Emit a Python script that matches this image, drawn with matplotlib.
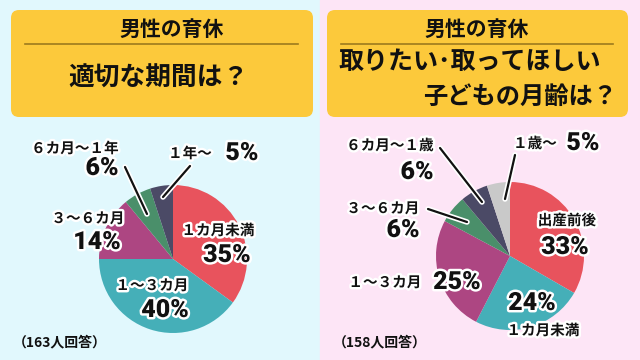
import matplotlib
matplotlib.use("Agg")
import matplotlib.pyplot as plt
from matplotlib.patches import Rectangle, FancyBboxPatch
import matplotlib.patheffects as pe

plt.rcParams['font.family'] = ['Noto Sans CJK JP', 'DejaVu Sans']

# ---- data ----
left_categories = ["１カ月未満", "１～３カ月", "３～６カ月", "６カ月～１年", "１年～"]
left_values = [35, 40, 14, 6, 5]
left_n = "（163人回答）"

right_categories = ["出産前後", "１カ月未満", "１～３カ月", "３～６カ月", "６カ月～１歳", "１歳～"]
right_values = [33, 24, 25, 6, 6, 5]
right_n = "（158人回答）"

left_colors = ["#e8535d", "#45afb8", "#ad4682", "#4a8f6a", "#4b4a66"]
right_colors = ["#e8535d", "#45afb8", "#ad4682", "#4a8f6a", "#4b4a66", "#c9c9c9"]

W, H = 640, 360
fig = plt.figure(figsize=(6.4, 3.6), dpi=100)

# background axes (pixel coords)
bg = fig.add_axes([0, 0, 1, 1])
bg.set_xlim(0, W)
bg.set_ylim(H, 0)
bg.axis('off')
bg.add_patch(Rectangle((0, 0), 320, 360, color="#e1f8fd", zorder=0))
bg.add_patch(Rectangle((320, 0), 320, 360, color="#fde5f6", zorder=0))
for x0, x1 in [(11, 313), (327, 628)]:
    bg.add_patch(FancyBboxPatch((x0 + 8, 18), x1 - x0 - 16, 91,
                                boxstyle="round,pad=8", fc="#fcc93b", ec="none", zorder=1))

def px2fig(cx, cy, r):
    return [(cx - r) / W, (H - cy - r) / H, 2 * r / W, 2 * r / H]

def draw_pie(cx, cy, r, values, colors):
    ax = fig.add_axes(px2fig(cx, cy, r))
    ax.pie(values, colors=colors, startangle=90, counterclock=False,
           radius=1, wedgeprops=dict(linewidth=0))
    ax.set_xlim(-1, 1)
    ax.set_ylim(-1, 1)
    ax.set_aspect('equal')
    ax.axis('off')

draw_pie(173, 259, 74, left_values, left_colors)
draw_pie(510, 256, 74, right_values, right_colors)

# overlay axes for labels
ov = fig.add_axes([0, 0, 1, 1])
ov.set_xlim(0, W)
ov.set_ylim(H, 0)
ov.axis('off')
ov.patch.set_alpha(0)

stroke = [pe.withStroke(linewidth=3.5, foreground="white")]

def cat(x, y, s, ha="center"):
    ov.text(x, y, s, ha=ha, va="center", fontsize=10.5, fontweight="bold",
            color="#111111", path_effects=stroke)

def pct(x, y, v, ha="center"):
    ov.text(x, y, f"{v}%", ha=ha, va="center", fontsize=18, fontweight="black",
            color="#111111", path_effects=stroke, family=["Roboto", "DejaVu Sans"])

def leader(x0, y0, x1, y1):
    ov.plot([x0, x1], [y0, y1], color="#111111", lw=1.6, solid_capstyle="round",
            path_effects=[pe.Stroke(linewidth=4, foreground="white"), pe.Normal()])

# titles
ov.text(172, 29, "男性の育休", ha="center", va="center", fontsize=15, fontweight="bold", color="#111111")
ov.plot([25, 298], [44, 44], color="#9c7a1e", lw=1.2)
ov.text(158, 78, "適切な期間は？", ha="center", va="center", fontsize=18.5, fontweight="bold", color="#111111")

ov.text(477, 29, "男性の育休", ha="center", va="center", fontsize=15, fontweight="bold", color="#111111")
ov.plot([341, 613], [44, 44], color="#9c7a1e", lw=1.2)
ov.text(338, 62, "取りたい･取ってほしい", ha="left", va="center", fontsize=18, fontweight="bold", color="#111111")
ov.text(617, 97, "子どもの月齢は？", ha="right", va="center", fontsize=17.5, fontweight="bold", color="#111111")

# left pie labels
cat(218, 230, left_categories[0]); pct(227, 255, left_values[0])
cat(152, 285, left_categories[1]); pct(165, 310, left_values[1])
cat(88, 218, left_categories[2]); pct(97, 242, left_values[2])
cat(75, 148, left_categories[3]); pct(102, 168, left_values[3])
leader(125, 167, 147, 214)
cat(190, 153, left_categories[4]); pct(242, 153, left_values[4])
leader(190, 166, 163, 197)
ov.text(13, 342, left_n, ha="left", va="center", fontsize=10, fontweight="bold", color="#111111")

# right pie labels
cat(567, 220, right_categories[0]); pct(565, 247, right_values[0])
cat(543, 330, right_categories[1]); pct(532, 303, right_values[1])
cat(385, 282, right_categories[2]); pct(457, 282, right_values[2])
cat(383, 208, right_categories[3]); pct(403, 230, right_values[3])
leader(428, 209, 467, 222)
cat(390, 145, right_categories[4]); pct(417, 172, right_values[4])
leader(440, 148, 482, 202)
cat(535, 143, right_categories[5]); pct(583, 143, right_values[5])
leader(515, 155, 505, 199)
ov.text(333, 342, right_n, ha="left", va="center", fontsize=10, fontweight="bold", color="#111111")

fig.savefig("out.png", dpi=100)
